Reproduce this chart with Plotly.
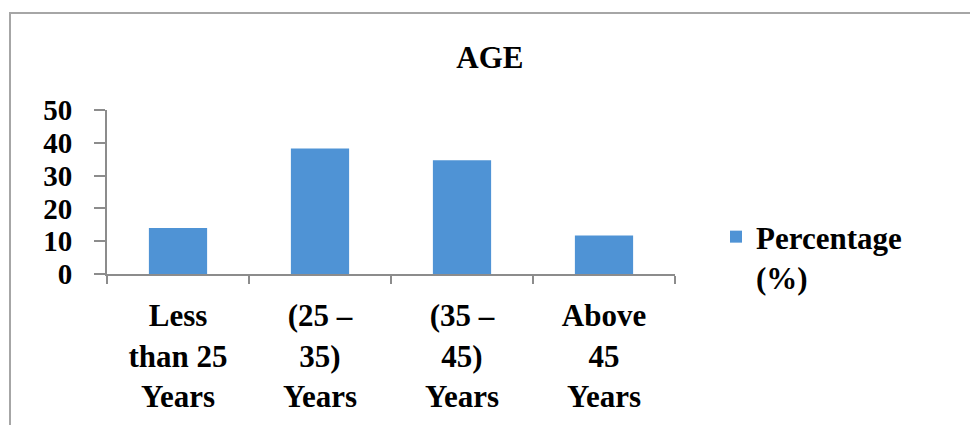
import plotly.graph_objects as go

# Age distribution of respondents
categories = ["Less<br>than 25<br>Years", "(25 –<br>35)<br>Years", "(35 –<br>45)<br>Years", "Above<br>45<br>Years"]
percentages = [14.0, 38.3, 34.7, 11.7]
y_ticks = [0, 10, 20, 30, 40, 50]

serif = "Liberation Serif, Times New Roman, serif"

fig = go.Figure()
fig.add_trace(go.Bar(
    x=categories,
    y=percentages,
    name="Percentage<br>(%)",
    marker=dict(color="#4f93d5", line=dict(width=0)),
))

# plot area geometry (pixels)
L, R, T, B = 107, 675, 110, 274
W, H = 970, 425
pw, ph = R - L, B - T

def px(x):
    return (x - L) / pw

def py(y):
    return (B - y) / ph

fig.update_layout(
    width=W, height=H,
    margin=dict(l=L, r=W - R, t=T, b=H - B, pad=0),
    paper_bgcolor="white",
    plot_bgcolor="white",
    bargap=0.59,
    title=dict(text="AGE", x=0.505, xanchor="center", y=1 - 57 / H, yanchor="middle",
               font=dict(family=serif, size=31, color="black", weight="bold")),
    font=dict(family=serif, color="black"),
    showlegend=True,
    legend=dict(x=px(716), y=py(210), xanchor="left", yanchor="top",
                font=dict(family=serif, size=31, color="black", weight="bold"),
                valign="top", itemwidth=30, bgcolor="rgba(0,0,0,0)"),
    xaxis=dict(
        showline=True, linecolor="#8c8c8c", linewidth=2,
        ticks="outside", ticklen=8, tickcolor="#8c8c8c", tickwidth=2,
        tickson="boundaries",
        tickfont=dict(family=serif, size=31, color="black", weight="bold"),
        ticklabelstandoff=13,
        showgrid=False, zeroline=False, fixedrange=True,
    ),
    yaxis=dict(
        range=[0, 50], tickvals=y_ticks,
        showline=True, linecolor="#8c8c8c", linewidth=2,
        ticks="outside", ticklen=11, tickcolor="#8c8c8c", tickwidth=2,
        tickfont=dict(family=serif, size=29, color="black", weight="bold"),
        ticklabelstandoff=16,
        showgrid=False, zeroline=False, fixedrange=True,
    ),
    shapes=[dict(type="rect", xref="paper", yref="paper",
                 x0=px(10), x1=px(980), y0=py(440), y1=py(13),
                 line=dict(color="#a6a6a6", width=2), layer="below")],
)

fig.write_html("out.html")
